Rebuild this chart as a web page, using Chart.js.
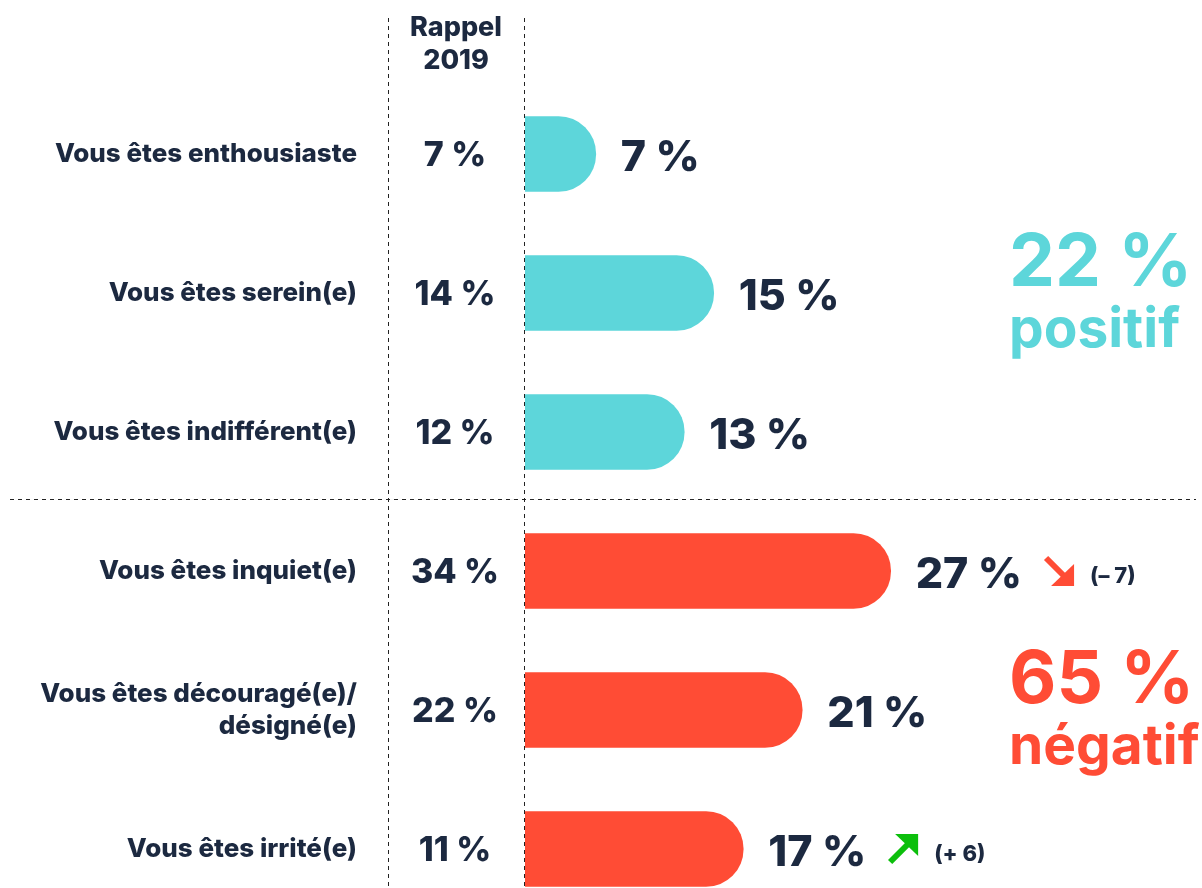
<!DOCTYPE html>
<html lang="fr">
<head>
<meta charset="utf-8">
<script src="https://cdn.jsdelivr.net/npm/chart.js@4.4.0/dist/chart.umd.min.js"></script>
<style>
  html, body { margin: 0; padding: 0; background: #fff; }
  canvas { display: block; }
</style>
</head>
<body>
<canvas id="myChart" width="1202" height="888"></canvas>
<script>
// données
const categories = [
    'Vous êtes enthousiaste',
    'Vous êtes serein(e)',
    'Vous êtes indifférent(e)',
    'Vous êtes inquiet(e)',
    ['Vous êtes découragé(e)/', 'désigné(e)'],
    'Vous êtes irrité(e)'
];
const values2024 = [7, 15, 13, 27, 21, 17];
const rappel2019 = [7, 14, 12, 34, 22, 11];
const evolutions = [0, 0, 0, -7, 0, 6];
const totalLabels = ['22 %', '65 %'];
const totalWords = ['positif', 'négatif'];
const totalRows = [1, 4];

const TEAL = '#5dd6da';
const RED = '#ff4c35';
const GREEN = '#0cbf0c';
const NAVY = '#1c2940';
const FONT = 'Inter';

const barColors = values2024.map((v, i) => i < 3 ? TEAL : RED);

function dashedLine(ctx, x1, y1, x2, y2) {
    ctx.save();
    ctx.strokeStyle = '#222';
    ctx.lineWidth = 1;
    ctx.setLineDash([4, 4]);
    ctx.beginPath();
    ctx.moveTo(x1, y1);
    ctx.lineTo(x2, y2);
    ctx.stroke();
    ctx.restore();
}

function drawArrow(ctx, x, y, up, color) {
    // flèche d'environ 30 px, centrée verticalement sur y
    ctx.save();
    ctx.strokeStyle = color;
    ctx.fillStyle = color;
    ctx.lineWidth = 6;
    ctx.beginPath();
    if (up) {
        ctx.moveTo(x + 2, y + 13);
        ctx.lineTo(x + 20, y - 5);
    } else {
        ctx.moveTo(x + 2, y - 13);
        ctx.lineTo(x + 20, y + 5);
    }
    ctx.stroke();
    ctx.beginPath();
    if (up) {
        ctx.moveTo(x + 30, y - 15);
        ctx.lineTo(x + 7, y - 15);
        ctx.lineTo(x + 30, y + 7);
    } else {
        ctx.moveTo(x + 30, y + 15);
        ctx.lineTo(x + 7, y + 15);
        ctx.lineTo(x + 30, y - 7);
    }
    ctx.closePath();
    ctx.fill();
    ctx.restore();
}

const decorPlugin = {
    id: 'decor',
    beforeDatasetsDraw(chart) {
        const ctx = chart.ctx;
        const yScale = chart.scales.y;
        const xScale = chart.scales.x;
        dashedLine(ctx, 388.5, 18, 388.5, 888);
        dashedLine(ctx, xScale.left - 0.5, 18, xScale.left - 0.5, 888);
        const sep = Math.round((yScale.getPixelForValue(2) + yScale.getPixelForValue(3)) / 2) - 2.5;
        dashedLine(ctx, 10, sep, 1196, sep);
    },
    afterDatasetsDraw(chart) {
        const ctx = chart.ctx;
        const yScale = chart.scales.y;
        const xScale = chart.scales.x;
        ctx.save();
        ctx.fillStyle = NAVY;
        ctx.textBaseline = 'middle';

        // en-tête
        ctx.textAlign = 'center';
        ctx.font = `800 27px ${FONT}`;
        ctx.fillText('Rappel', 456, 28);
        ctx.fillText('2019', 456, 61);

        values2024.forEach((v, i) => {
            const y = yScale.getPixelForValue(i);
            // rappel 2019
            ctx.textAlign = 'center';
            ctx.fillStyle = NAVY;
            ctx.font = `800 34px ${FONT}`;
            ctx.fillText(rappel2019[i] + ' %', 455, y + 2);

            // valeur
            const x = xScale.getPixelForValue(v) + 25;
            ctx.textAlign = 'left';
            ctx.font = `800 43px ${FONT}`;
            const txt = v + ' %';
            ctx.fillText(txt, x, y + 4);

            // évolution
            const ev = evolutions[i];
            if (ev !== 0) {
                const ax = x + ctx.measureText(txt).width + 22;
                drawArrow(ctx, ax, y, ev > 0, ev > 0 ? GREEN : RED);
                ctx.fillStyle = NAVY;
                ctx.font = `800 22px ${FONT}`;
                ctx.fillText(ev > 0 ? `(+ ${ev})` : `(– ${-ev})`, ax + 46, y + 5);
            }
        });

        // totaux
        totalRows.forEach((row, k) => {
            const y = yScale.getPixelForValue(row);
            ctx.fillStyle = k === 0 ? TEAL : RED;
            ctx.textAlign = 'left';
            ctx.textBaseline = 'alphabetic';
            ctx.font = `bold 73px ${FONT}`;
            ctx.fillText(totalLabels[k], 1009, y - 7);
            ctx.font = `bold 55px ${FONT}`;
            ctx.fillText(totalWords[k], 1009, y + 54);
        });
        ctx.restore();
    }
};

const ctx = document.getElementById('myChart').getContext('2d');

const chart = new Chart(ctx, {
    type: 'bar',
    data: {
        labels: categories,
        datasets: [{
            label: '2024',
            data: values2024,
            backgroundColor: barColors,
            borderWidth: 0,
            barThickness: 75,
            borderSkipped: 'start',
            borderRadius: {topLeft: 0, bottomLeft: 0, topRight: 38, bottomRight: 38},
            clip: {left: 0, top: false, right: false, bottom: false}
        }]
    },
    options: {
        indexAxis: 'y',
        responsive: false,
        animation: false,
        layout: {
            padding: {top: 154, bottom: 39, left: 0, right: 12}
        },
        plugins: {
            legend: {display: false},
            tooltip: {enabled: false}
        },
        scales: {
            x: {
                display: false,
                min: 2.2,
                max: 47.3
            },
            y: {
                offset: false,
                grid: {display: false, drawTicks: false},
                border: {display: false},
                ticks: {
                    color: NAVY,
                    padding: 168,
                    font: {family: FONT, size: 26, weight: '800', lineHeight: 1.25}
                },
                afterFit: (scale) => {
                    scale.width = 525;
                    scale.paddingTop = 0;
                    scale.paddingBottom = 0;
                }
            }
        }
    },
    plugins: [decorPlugin]
});
</script>
</body>
</html>
